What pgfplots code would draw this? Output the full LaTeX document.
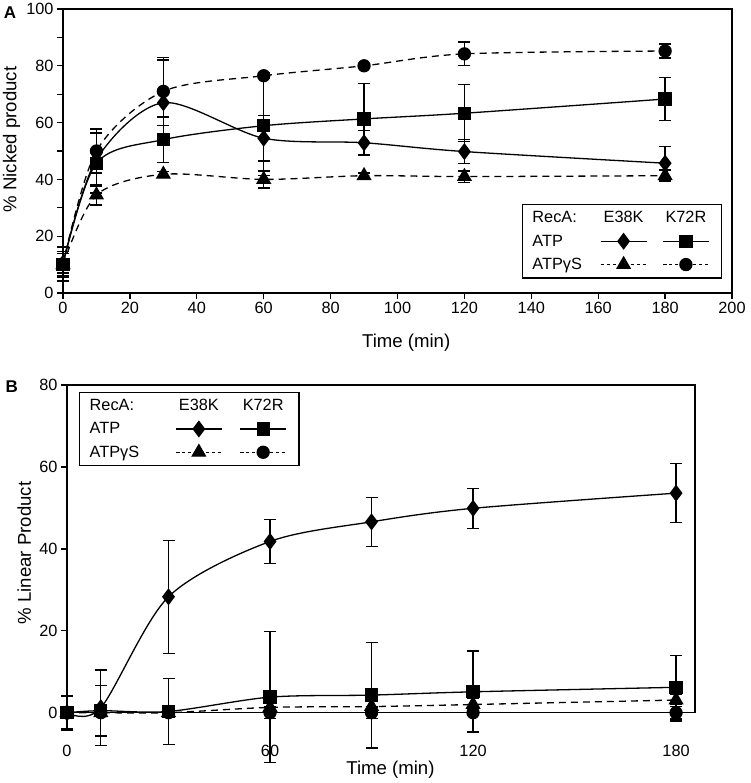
\documentclass[border=0pt]{standalone}
\usepackage{fontspec}
\setmainfont{Liberation Sans}
\usepackage{pgfplots}
\pgfplotsset{compat=1.18}
\newcommand{\tickfont}{\fontsize{16.3}{19}\selectfont}
\newcommand{\labfont}{\fontsize{18.6}{22}\selectfont}
\pgfplotsset{
 mystyle/.style={
  scale only axis, clip=false,
  axis line style={line width=1.5pt},
  every tick/.style={line width=1.3pt, black},
  tick align=outside, major tick length=6pt, minor tick length=6pt,
  xtick pos=left, ytick pos=left,
  /pgf/number format/assume math mode=true,
  ticklabel style={font=\tickfont},
  label style={font=\labfont},
  legend columns=3,
  legend cell align=left,
  legend style={font=\tickfont, draw=black, line width=1.4pt, anchor=north west,
     inner xsep=8pt, inner ysep=5pt, row sep=6.5pt},
 },
 base/.style={black, line width=1.3pt, smooth,
   mark options={solid, fill=black},
   error bars/y dir=both, error bars/y explicit,
   error bars/error bar style={line width=1.3pt, solid},
   error bars/error mark options={rotate=90, line width=1.3pt, mark size=6pt, solid}},
 dia/.style={base, mark=diamond*, mark size=7.5pt},
 sq/.style={base, mark=square*, mark size=6pt},
 tri/.style={base, dash pattern=on 7pt off 5pt, mark=triangle*, mark size=7.5pt},
 cir/.style={base, dash pattern=on 7pt off 5pt, mark=*, mark size=6pt},
 mylegline/.style={legend image code/.code={\draw[mark repeat=2,mark phase=2,##1] plot coordinates {(0pt,0pt) (23pt,0pt) (46pt,0pt)};}},
 myleghead/.style={legend image code/.code={\node[inner sep=0pt, anchor=center] at (23pt,0pt) {#1};}},
 dotleg/.style={dash pattern=on 3pt off 3pt},
}
\begin{document}
\begin{tikzpicture}
\useasboundingbox (0pt,0pt) rectangle (750pt,-783pt);
\node[font=\bfseries\fontsize{17}{20}\selectfont] at (10pt,-12.5pt) {A};
\node[font=\bfseries\fontsize{17}{20}\selectfont] at (11.7pt,-387pt) {B};
% ---------------- Panel A ----------------
\begin{axis}[mystyle,
  at={(63pt,-293pt)}, anchor=south west,
  width=669pt, height=284pt,
  xmin=0, xmax=200, ymin=0, ymax=100,
  xtick={0,20,...,200}, ytick={0,20,...,100},
  minor ytick={10,30,...,90},
  xlabel={Time (min)}, ylabel={\% Nicked product},
  xlabel style={at={(axis description cs:0.513,0)}, anchor=center, yshift=-49.7pt},
  ylabel style={at={(axis description cs:-0.077,0.54)}, anchor=center},
  legend style={at={(0.6857,0.3134)},
    /tikz/column 2/.style={column sep=16pt}, /tikz/column 4/.style={column sep=11pt}},
]
\addlegendimage{empty legend}\addlegendentry{RecA:}
\addlegendimage{myleghead=E38K}\addlegendentry{\mbox{}}
\addlegendimage{myleghead=K72R}\addlegendentry{\mbox{}}
\addlegendimage{empty legend}\addlegendentry{ATP}
\addlegendimage{dia, mylegline}\addlegendentry{\mbox{}}
\addlegendimage{sq, mylegline}\addlegendentry{\mbox{}}
\addlegendimage{empty legend}\addlegendentry{ATPγS}
\addlegendimage{tri, dotleg, mylegline}\addlegendentry{\mbox{}}
\addlegendimage{cir, dotleg, mylegline}\addlegendentry{\mbox{}}
% E38K ATP
\addplot[dia, forget plot] coordinates {
 (0,10.5) +- (0,3.5) (10,47) +- (0,9.5) (30,67) +- (0,15) (60,54.5) +- (0,8)
 (90,52.9) +- (0,4.3) (120,49.8) +- (0,4.3) (180,45.7) +- (0,6)};
% K72R ATP
\addplot[sq, forget plot] coordinates {
 (0,10) +- (0,4.5) (10,45.7) +- (0,10.5) (30,54) +- (0,8) (60,58.9) +- (0,17.5)
 (90,61.3) +- (0,12.5) (120,63.3) +- (0,10) (180,68.3) +- (0,7.5)};
% E38K ATPgS
\addplot[tri, forget plot] coordinates {
 (0,10) +- (0,4) (10,34.5) +- (0,3.5) (30,41.8) +- (0,1) (60,40) +- (0,3)
 (90,41.3) +- (0,1) (120,41) +- (0,2) (180,41.3) +- (0,2)};
% K72R ATPgS
\addplot[cir, forget plot] coordinates {
 (0,10.2) +- (0,6) (10,50) +- (0,7.7) (30,71) +- (0,12) (60,76.5) +- (0,1)
 (90,80) +- (0,0.8) (120,84.2) +- (0,4.2) (180,85.2) +- (0,2.5)};
\end{axis}
% ---------------- Panel B ----------------
\begin{axis}[mystyle,
  at={(67pt,-712.7pt)}, anchor=south west,
  width=628pt, height=327.7pt,
  xmin=0, xmax=185.6, ymin=0, ymax=80,
  xtick={0,60,120,180}, ytick={0,20,...,80},
  xtick style={draw=none},
  xticklabel style={yshift=-23pt},
  xlabel={Time (min)}, ylabel={\% Linear Product},
  xlabel style={at={(axis description cs:0.515,0)}, anchor=center, yshift=-57.3pt},
  ylabel style={at={(axis description cs:-0.068,0.487)}, anchor=center},
  legend style={at={(0.0191,0.9796)},
    /tikz/column 2/.style={column sep=34pt}, /tikz/column 4/.style={column sep=13pt}},
]
\addlegendimage{empty legend}\addlegendentry{RecA:}
\addlegendimage{myleghead=E38K}\addlegendentry{\mbox{}}
\addlegendimage{myleghead=K72R}\addlegendentry{\mbox{}}
\addlegendimage{empty legend}\addlegendentry{ATP}
\addlegendimage{dia, mylegline}\addlegendentry{\mbox{}}
\addlegendimage{sq, mylegline}\addlegendentry{\mbox{}}
\addlegendimage{empty legend}\addlegendentry{ATPγS}
\addlegendimage{tri, dotleg, mylegline}\addlegendentry{\mbox{}}
\addlegendimage{cir, dotleg, mylegline}\addlegendentry{\mbox{}}
% K72R ATPgS
\addplot[cir, forget plot] coordinates {
 (0,0) +- (0,0) (10,0) +- (0,0) (30,0) +- (0,1) (60,0) +- (0,1.4)
 (90,0) +- (0,1.4) (120,0) +- (0,4.6) (180,0) +- (0,2)};
% E38K ATPgS
\addplot[tri, forget plot] coordinates {
 (0,0) +- (0,0) (10,0) +- (0,0.5) (30,0) +- (0,1) (60,1.3) +- (0,1)
 (90,1.5) +- (0,1.4) (120,2) +- (0,1.5) (180,3.1) +- (0,1.5)};
% K72R ATP
\addplot[sq, forget plot] coordinates {
 (0,0) +- (0,4) (10,0.5) +- (0,6.2) (30,0.3) +- (0,8) (60,3.8) +- (0,16)
 (90,4.3) +- (0,12.9) (120,5.1) +- (0,10) (180,6.2) +- (0,7.7)};
% E38K ATP
\addplot[dia, forget plot] coordinates {
 (0,0) +- (0,4.2) (10,1.2) +- (0,9.2) (30,28.3) +- (0,13.8) (60,41.8) +- (0,5.3)
 (90,46.6) +- (0,6) (120,49.9) +- (0,4.9) (180,53.6) +- (0,7.2)};
\end{axis}
\end{tikzpicture}
\end{document}
